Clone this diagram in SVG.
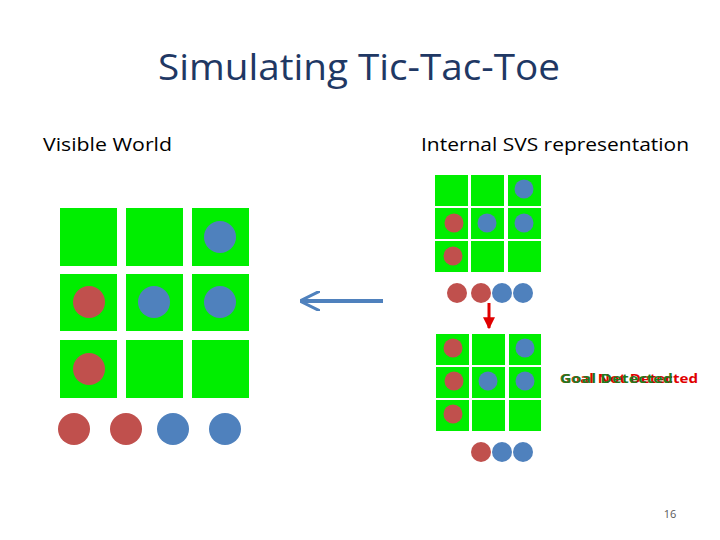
<svg xmlns="http://www.w3.org/2000/svg" width="720" height="540" viewBox="0 0 720 540">
<style>
.c{fill:#00ee00}
.r{fill:#c0504d}
.b{fill:#4f81bd}
text{font-family:"Open Sans","Liberation Sans",sans-serif}
</style>
<defs><marker id="ah" viewBox="0 0 10 10" refX="9" refY="5" markerWidth="4" markerHeight="4" orient="auto"><path d="M0,0L10,5L0,10z" fill="#e00000"/></marker>
<marker id="ab" viewBox="0 0 10 10" refX="9" refY="5" markerWidth="5" markerHeight="5" orient="auto"><path d="M0,0L10,5L0,10" fill="none" stroke="#4f81bd" stroke-width="1.5"/></marker></defs>
<rect width="720" height="540" fill="#fff"/>
<text x="158" y="80" font-size="36" fill="#1f3864" textLength="402" lengthAdjust="spacingAndGlyphs">Simulating Tic-Tac-Toe</text>
<text x="43" y="151" font-size="19" fill="#000" textLength="129" lengthAdjust="spacingAndGlyphs">Visible World</text>
<text x="421" y="151" font-size="19" fill="#000" textLength="268" lengthAdjust="spacingAndGlyphs">Internal SVS representation</text>
<g id="visible">
<rect class="c" x="60" y="208" width="57" height="58"/><rect class="c" x="126" y="208" width="57" height="58"/><rect class="c" x="192" y="208" width="57" height="58"/>
<rect class="c" x="60" y="274" width="57" height="57"/><rect class="c" x="126" y="274" width="57" height="57"/><rect class="c" x="192" y="274" width="57" height="57"/>
<rect class="c" x="60" y="340" width="57" height="58"/><rect class="c" x="126" y="340" width="57" height="58"/><rect class="c" x="192" y="340" width="57" height="58"/>
<circle class="b" cx="220" cy="237" r="16"/>
<circle class="r" cx="89" cy="302" r="16"/><circle class="b" cx="154" cy="302" r="16"/><circle class="b" cx="220" cy="302" r="16"/>
<circle class="r" cx="89" cy="369" r="16"/>
<circle class="r" cx="74" cy="429" r="16"/><circle class="r" cx="126" cy="429" r="16"/><circle class="b" cx="173" cy="429" r="16"/><circle class="b" cx="225" cy="429" r="16"/>
</g>
<g id="svs-top">
<rect class="c" x="435" y="175" width="33" height="31"/><rect class="c" x="471" y="175" width="33" height="31"/><rect class="c" x="508" y="175" width="33" height="31"/>
<rect class="c" x="435" y="208" width="33" height="31"/><rect class="c" x="471" y="208" width="33" height="31"/><rect class="c" x="508" y="208" width="33" height="31"/>
<rect class="c" x="435" y="241" width="33" height="31"/><rect class="c" x="471" y="241" width="33" height="31"/><rect class="c" x="508" y="241" width="33" height="31"/>
<circle class="b" cx="524" cy="189" r="9.5"/>
<circle class="r" cx="454" cy="223" r="9.5"/><circle class="b" cx="487" cy="223" r="9.5"/><circle class="b" cx="524" cy="223" r="9.5"/>
<circle class="r" cx="453" cy="256" r="9.5"/>
<circle class="r" cx="457" cy="293" r="10"/><circle class="r" cx="481" cy="293" r="10"/><circle class="b" cx="502" cy="293" r="10"/><circle class="b" cx="523" cy="293" r="10"/>
</g>
<g id="svs-bottom">
<rect class="c" x="436" y="334" width="33" height="31"/><rect class="c" x="472" y="334" width="33" height="31"/><rect class="c" x="509" y="334" width="32" height="31"/>
<rect class="c" x="436" y="367" width="33" height="31"/><rect class="c" x="472" y="367" width="33" height="31"/><rect class="c" x="509" y="367" width="32" height="31"/>
<rect class="c" x="436" y="400" width="33" height="31"/><rect class="c" x="472" y="400" width="33" height="31"/><rect class="c" x="509" y="400" width="32" height="31"/>
<circle class="r" cx="453" cy="348" r="9.5"/><circle class="b" cx="525" cy="348" r="9.5"/>
<circle class="r" cx="454" cy="381" r="9.5"/><circle class="b" cx="488" cy="381" r="9.5"/><circle class="b" cx="525" cy="381" r="9.5"/>
<circle class="r" cx="453" cy="414" r="9.5"/>
<circle class="r" cx="481" cy="452" r="10"/><circle class="b" cx="502" cy="452" r="10"/><circle class="b" cx="523" cy="452" r="10"/>
</g>
<g id="connectors">
<line x1="489" y1="303" x2="489" y2="328" stroke="#e00000" stroke-width="3" marker-end="url(#ah)"/>
<line x1="383" y1="301" x2="302" y2="301" stroke="#4f81bd" stroke-width="4" marker-end="url(#ab)"/>
</g>
<g id="goal" font-size="13" font-weight="bold">
<text x="560" y="383" fill="#e00000" textLength="138" lengthAdjust="spacingAndGlyphs">Goal Not Detected</text>
<text x="560" y="383" fill="#1f7a1f" textLength="113" lengthAdjust="spacingAndGlyphs">Goal Detected</text>
</g>
<text x="670" y="518" font-size="11" text-anchor="middle" fill="#595959">16</text>
</svg>
